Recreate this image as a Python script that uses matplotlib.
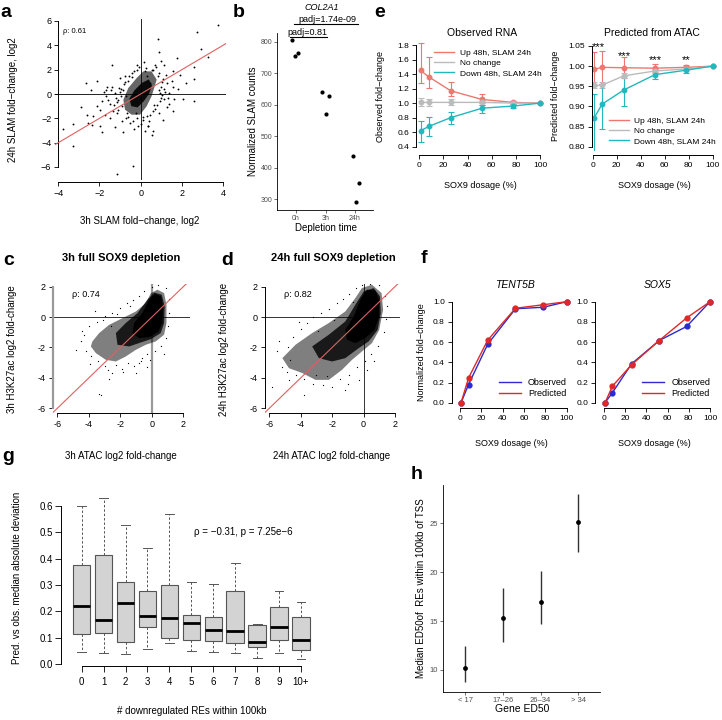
import numpy as np
import matplotlib.pyplot as plt

plt.rcParams['font.family'] = ['Liberation Sans', 'DejaVu Sans']

W, H = 722, 720

# ---------- a: 3h vs 24h SLAM
a_x = [3.77, 2.75, 0.86, 2.91, 3.28, 1.75, -1.41, 0.91, 0.97, 1.13, 2.6, 1.9, 2.59, 1.59,
       -2.65, -2.14, -2.43, -1.68, -1.62, -1.0, -0.76, -0.44, -0.19, 0.21, 2.07, 2.59, 1.59,
       1.52, -2.14, -2.62, -2.54, -2.38, -1.97, -1.89, -3.3, -3.75, -3.27, -1.49, -1.25, -0.84,
       -0.39, -1.13, 0.58, 0.53, 1.1, 1.59, 0.13, 0.37, -1.36, -1.73, -1.97, -1.13,
       -1.2, -1.0, -0.9, -1.1, -0.8, -0.6, 0.3, 0.6, 0.9, 1.1, 1.0, 1.2, 1.0, 0.8, 0.6, 0.3,
       -0.2, -0.6, -0.5, 0.0, -1.5, -1.7, -1.4, 1.4, 1.3, 0.7, -0.1, -0.4, 0.4, 0.9, 1.8, 2.2,
       -2.3, -2.9, -0.3, 0.2, -0.9, 1.3, 0.15, 0.45, -0.7, 0.65, 0.95, -0.95, 1.15, -0.25,
       -1.3, -1.1, -1.25, -1.05, -0.85, -0.95, -1.15, -0.7, -0.35, 0.1, 0.45, 0.7, 0.95, 1.05,
       1.15, 1.05, 0.85, 0.55, 0.25, -0.3, -0.55, -0.75, -1.45, -1.6, 1.4, 1.6, 0.35, -0.15,
       1.25, -1.9, -1.8, 0.75, -0.2, 1.35, 0.9, -0.65]
a_y = [5.7, 5.1, 4.55, 3.73, 3.04, 2.96, 2.41, 3.45, 2.68, 2.41, 2.19, 1.59, 1.26, 1.86,
       0.88, 1.04, 0.36, 0.30, 0.58, 1.32, 1.51, 1.73, 1.95, 1.86, -0.38, -0.6, 0.58,
       1.04, -1.01, -1.70, -2.38, -2.58, -2.66, -3.15, -2.44, -2.88, -4.30, -1.97, -2.71, -3.12,
       -5.89, -6.6, -3.07, -3.34, -2.16, -1.42, -2.11, -2.6, -1.42, -1.70, -1.29, -0.68,
       -0.3, 0.2, -1.0, -1.3, 0.8, 1.1, 1.5, 2.0, 1.7, 1.2, 0.6, 0.2, -0.3, -0.9, -1.4, -1.8,
       -2.0, -1.9, -2.4, -2.5, -0.8, -0.2, 0.6, -0.8, 0.9, 2.4, 2.2, 1.4, -2.2, -1.6, 0.4, 0.9,
       -1.8, -1.1, -2.9, -3.0, -2.2, -1.1, 2.6, 0.9, -0.2, -0.9, 0.1, 0.45, -0.45, -1.6,
       -0.9, -0.5, 0.1, 0.5, 0.35, -0.15, -1.6, -2.0, -2.2, -1.9, -1.7, -1.2, -0.6, -0.1,
       0.45, 0.95, 1.45, 1.95, 2.1, 1.9, 1.5, 1.0, 0.35, -0.5, 0.1, -0.4, -2.6, -2.6,
       1.6, -0.6, 0.2, 2.2, 2.4, -0.3, 0.3, -1.6]
a_blob_x = [0.53, 0.78, 0.53, 0.29, -0.03, -0.44, -0.76, -0.84, -0.6, -0.19, 0.13]
a_blob_y = [1.86, 1.18, -0.19, -1.01, -1.70, -1.70, -1.29, -0.47, 0.49, 1.32, 1.86]
a_core_x = [-0.45, -0.55, -0.3, 0.05, 0.4, 0.55, 0.4, 0.15, -0.15]
a_core_y = [-1.0, -0.4, 0.3, 0.9, 1.2, 0.7, 0.0, -0.6, -1.1]

# ---------- b: COL2A1
b_groups = ['0h', '3h', '24h']
b_pos = [0.85, 0.97, 1.08, 1.89, 2.02, 2.11, 2.94, 3.03, 3.15]
b_counts = [805, 757, 764, 640, 570, 627, 438, 290, 353]

# ---------- c / d: ATAC vs H3K27ac clouds
c_outer_x = [-3.77, -3.34, -2.71, -1.86, -1.01, -0.38, -0.06, 0.36, 0.78, 0.93, 0.93, 0.78, 0.25,
             -0.38, -1.01, -1.65, -2.28, -2.92, -3.55, -3.87]
c_outer_y = [-1.60, -1.05, -0.51, -0.07, 0.37, 0.92, 1.58, 1.80, 1.58, 0.81, -0.39, -1.16, -1.60,
             -1.82, -2.15, -2.59, -2.92, -2.81, -2.37, -1.93]
c_mid_x = [-2.28, -1.65, -0.91, -0.28, 0.15, 0.63, 0.82, 0.78, 0.57, -0.06, -0.81, -1.44, -2.18]
c_mid_y = [-1.05, -0.39, 0.26, 1.14, 1.62, 1.47, 0.70, -0.39, -1.05, -1.45, -1.71, -1.93, -1.82]
c_core_x = [-1.12, -0.60, -0.17, 0.21, 0.59, 0.72, 0.67, 0.42, -0.17, -0.81, -1.23]
c_core_y = [-0.39, 0.26, 1.14, 1.53, 1.36, 0.59, -0.39, -0.95, -1.32, -1.38, -1.05]
c_pts_x = [-4.82, -3.23, -3.83, -1.16, -0.81, -2.28, -2.81, -4.3, -4.0, -3.5, -3.0, -2.5, -2.0,
           -1.6, -1.2, -0.8, -0.5, 0.0, 0.4, 0.9, 1.1, 1.1, 1.05, 0.9, 0.6, 0.2, -0.3, -0.6,
           -1.5, -1.9, -2.5, -3.0, -3.4, -4.2, -4.5, -3.9, -1.0, -0.3, -2.7, -4.4, -3.6, -0.1,
           0.8, -3.34, -2.2, -1.4, -0.7, -3.1, -2.6, -1.8]
c_pts_y = [-2.15, -5.11, -2.59, -3.25, -3.03, -3.14, -3.47, -1.2, -0.6, -0.3, 0.1, 0.3, 0.6,
           0.9, 1.1, 1.4, 1.7, 2.0, 2.1, 1.9, 1.2, 0.3, -0.6, -1.4, -1.9, -2.2, -2.4, -2.7,
           -3.0, -3.4, -3.7, -3.2, -2.9, -2.2, -1.6, -3.1, -3.7, -3.3, -4.1, -0.9, 0.4, -2.8,
           -2.4, -5.07, 0.2, 0.7, -2.9, -0.2, -0.6, -3.6]

d_outer_x = [-5.17, -4.33, -3.27, -2.21, -1.16, -0.52, -0.10, 0.54, 1.15, 1.25, 1.0, 0.54, -0.10,
             -0.73, -1.37, -2.21, -3.06, -3.90, -4.75]
d_outer_y = [-2.70, -1.82, -1.05, -0.39, 0.37, 1.25, 1.91, 2.13, 1.58, 0.48, -0.84, -1.71, -2.26,
             -2.81, -3.47, -4.13, -4.13, -3.68, -3.36]
d_mid_x = [-3.27, -2.21, -1.16, -0.52, 0.01, 0.65, 1.05, 1.1, 0.9, 0.33, -0.30, -1.16, -2.0, -2.84]
d_mid_y = [-1.93, -1.16, -0.29, 0.81, 1.68, 1.91, 1.36, 0.26, -0.84, -1.60, -2.04, -2.70, -2.92, -2.70]
d_core_x = [-1.16, -0.62, -0.20, 0.22, 0.75, 1.0, 1.0, 0.7, 0.11, -0.52, -1.05]
d_core_y = [-0.84, 0.04, 1.14, 1.80, 1.75, 1.14, 0.04, -0.84, -1.38, -1.71, -1.49]
d_pts_x = [-5.5, -5.2, -4.8, -4.5, -4.0, -3.6, -3.2, -2.7, -2.2, -1.7, -1.3, -0.9, -0.5, -0.1,
           0.4, 1.0, 1.4, 1.5, 1.45, 1.3, 0.9, 0.5, 0.1, -0.4, -0.9, -1.5, -2.0, -2.6, -3.2,
           -3.8, -4.3, -4.9, -1.2, -3.8, -0.28, 0.2, -5.4, -4.7, -3.0, -2.3, -1.0, -4.73, -5.8,
           -4.1, -2.9, -1.9, -0.7, 0.7]
d_pts_y = [-2.2, -3.3, -2.0, -1.3, -0.8, -0.4, 0.0, 0.3, 0.5, 0.9, 1.2, 1.5, 1.9, 2.1,
           2.2, 2.1, 1.4, 0.7, -0.1, -1.0, -1.9, -2.4, -2.9, -3.3, -3.8, -4.1, -4.6, -4.5, -4.4,
           -4.1, -3.8, -3.6, -4.8, -5.1, -4.14, -3.5, -1.6, -2.8, -3.8, -3.9, -4.4, -4.13, -4.6,
           -0.3, -0.9, -0.2, 1.0, -2.9]

# ---------- e: dosage response
e_x = [1, 8, 26, 52, 78, 100]
obs_up = [1.45, 1.36, 1.17, 1.05, 1.01, 1.00]
obs_up_lo = [1.28, 1.21, 1.10, 1.00, 0.99, 1.00]
obs_up_hi = [1.83, 1.64, 1.29, 1.12, 1.03, 1.00]
obs_nc = [1.01, 1.01, 1.01, 1.01, 1.00, 1.00]
obs_nc_lo = [0.96, 0.96, 0.97, 0.98, 0.99, 1.00]
obs_nc_hi = [1.07, 1.06, 1.05, 1.03, 1.01, 1.00]
obs_dn = [0.62, 0.68, 0.80, 0.93, 0.96, 1.00]
obs_dn_lo = [0.47, 0.55, 0.71, 0.86, 0.93, 1.00]
obs_dn_hi = [0.75, 0.81, 0.88, 0.98, 0.99, 1.00]
pred_up = [0.992, 0.997, 0.996, 0.995, 0.997, 1.000]
pred_up_lo = [0.950, 0.955, 0.970, 0.985, 0.990, 1.000]
pred_up_hi = [1.035, 1.037, 1.022, 1.005, 1.004, 1.000]
pred_nc = [0.952, 0.953, 0.976, 0.988, 0.993, 1.000]
pred_nc_lo = [0.945, 0.946, 0.970, 0.984, 0.990, 1.000]
pred_nc_hi = [0.960, 0.960, 0.983, 0.992, 0.996, 1.000]
pred_dn = [0.871, 0.906, 0.941, 0.979, 0.990, 1.000]
pred_dn_lo = [0.780, 0.845, 0.900, 0.967, 0.983, 1.000]
pred_dn_hi = [0.930, 0.955, 0.975, 0.990, 0.997, 1.000]
star_txt = ['***', '***', '***', '**']
star_x = [5, 26, 52, 78]
star_y = [1.048, 1.026, 1.015, 1.015]
e_names = ['Up 48h, SLAM 24h', 'No change', 'Down 48h, SLAM 24h']

# ---------- f: example genes
f_x = [1, 8, 26, 52, 78, 100]
tent_obs = [0.0, 0.18, 0.58, 0.93, 0.945, 1.0]
tent_pred = [0.0, 0.245, 0.62, 0.935, 0.97, 1.0]
sox5_obs = [0.0, 0.10, 0.385, 0.615, 0.755, 1.0]
sox5_pred = [0.0, 0.165, 0.375, 0.615, 0.84, 1.0]

# ---------- g: boxplots
g_labels = ['0', '1', '2', '3', '4', '5', '6', '7', '8', '9', '10+']
g_lo = [0.045, 0.040, 0.037, 0.058, 0.080, 0.048, 0.047, 0.040, 0.022, 0.040, 0.018]
g_q1 = [0.115, 0.117, 0.085, 0.140, 0.100, 0.093, 0.088, 0.078, 0.063, 0.093, 0.053]
g_med = [0.222, 0.168, 0.233, 0.183, 0.176, 0.156, 0.128, 0.127, 0.085, 0.142, 0.092]
g_q3 = [0.375, 0.415, 0.310, 0.277, 0.300, 0.185, 0.177, 0.277, 0.150, 0.215, 0.180]
g_hi = [0.600, 0.632, 0.528, 0.440, 0.568, 0.313, 0.302, 0.382, 0.153, 0.278, 0.237]

# ---------- h: ED50
h_labels = ['< 17', '17\u201326', '26\u201334', '> 34']
h_med = [10.17, 15.27, 17.0, 25.14]
h_lo = [8.74, 12.86, 14.73, 22.1]
h_hi = [12.48, 18.34, 20.1, 27.96]

fig = plt.figure(figsize=(W / 100, H / 100), dpi=100)


def panel(l, t, r, b, xa, xb, ya, yb):
    # axes placed in pixels; limits fitted so that given values land on given pixels
    ax = fig.add_axes([l / W, 1 - b / H, (r - l) / W, (b - t) / H])
    sx = (xb[1] - xa[1]) / (xb[0] - xa[0])
    ax.set_xlim(xa[0] + (l - xa[1]) / sx, xa[0] + (r - xa[1]) / sx)
    sy = (yb[1] - ya[1]) / (yb[0] - ya[0])
    ax.set_ylim(ya[0] + (b - ya[1]) / sy, ya[0] + (t - ya[1]) / sy)
    ax.patch.set_alpha(0)
    return ax


def r_style(ax, size=6.5, tick=3):
    for s in ['top', 'right']:
        ax.spines[s].set_visible(False)
    for s in ['left', 'bottom']:
        ax.spines[s].set_linewidth(0.7)
    ax.tick_params(direction='out', length=tick, width=0.6, labelsize=size, pad=2)


def gg_style(ax, size=5):
    for s in ['top', 'right']:
        ax.spines[s].set_visible(False)
    for s in ['left', 'bottom']:
        ax.spines[s].set_linewidth(0.6)
    ax.tick_params(direction='out', length=2, width=0.5, color='#333333',
                   labelcolor='#4d4d4d', labelsize=size, pad=1.5)


def ftext(x, y, s, **kw):
    fig.text(x / W, 1 - y / H, s, **kw)


# panel letters
for lab, x, y in [('a', 0, 17), ('b', 233, 17), ('c', 3, 265), ('d', 221, 265),
                  ('e', 374, 17), ('f', 421, 263), ('g', 2, 461), ('h', 411, 479)]:
    ftext(x, y, lab, fontsize=14, fontweight='bold', ha='left', va='baseline')

# ===== a
ax = panel(55, 19, 226, 180, (-4, 58.3), (4, 223), (6, 21), (-6, 167))
r_style(ax)
ax.axhline(0, color='#222222', lw=0.7, zorder=1)
ax.axvline(0, color='#222222', lw=0.7, zorder=1)
ax.fill(a_blob_x, a_blob_y, color='k', alpha=0.6, lw=0, zorder=2)
ax.fill(a_core_x, a_core_y, color='k', alpha=0.9, lw=0, zorder=2)
ax.scatter(a_x, a_y, s=1.8, color='k', lw=0, zorder=3)
ax.plot([-5, 5], [-5, 5], color='#E06060', lw=0.8, zorder=4)
ax.spines['left'].set_position(('data', -4))
ax.spines['bottom'].set_position(('outward', 1.5))
ax.spines['left'].set_bounds(-6, 6)
ax.spines['bottom'].set_bounds(-4, 4)
ax.set_xticks([-4, -2, 0, 2, 4])
ax.set_yticks([-6, -4, -2, 0, 2, 4, 6])
ax.text(-3.76, 5.12, '\u03c1: 0.61', fontsize=5.5, va='center', ha='left')
ftext(140, 221, '3h SLAM fold\u2212change, log2', fontsize=7, ha='center', va='center')
ftext(13, 100, '24h SLAM fold\u2212change, log2', fontsize=7, ha='center', va='center', rotation=90)

# ===== b
ax = panel(277, 33, 373, 210, (1, 296), (3, 355), (800, 42), (300, 199.3))
gg_style(ax)
ax.scatter(b_pos, b_counts, s=9, color='k', lw=0, zorder=3)
ax.set_xticks([1, 2, 3])
ax.set_xticklabels(b_groups)
ax.set_yticks([300, 400, 500, 600, 700, 800])
ax.plot([0.93, 3.1], [857, 857], color='k', lw=0.8, clip_on=False)
ax.plot([0.80, 2.04], [815, 815], color='k', lw=0.8, clip_on=False)
ax.text(2.07, 857, 'padj=1.74e-09', fontsize=6.5, ha='center', va='bottom', clip_on=False)
ax.text(1.4, 815, 'padj=0.81', fontsize=6.5, ha='center', va='bottom', clip_on=False)
ftext(322, 7, 'COL2A1', fontsize=6.5, style='italic', ha='center', va='center')
ftext(326, 228, 'Depletion time', fontsize=7, ha='center', va='center')
ftext(253, 121.5, 'Normalized SLAM counts', fontsize=7, ha='center', va='center', rotation=90)

# ===== c and d
for key, (l, r, xa_val, xb_val) in {'c': (52.7, 190, (-6, 57.3), (2, 183.3)),
                                    'd': (265, 400, (-6, 269.3), (0, 363.5))}.items():
    ax = panel(l, 284.3, r, 413.5, xa_val, xb_val, (2, 286.7), (-6, 408.3))
    r_style(ax)
    if key == 'c':
        ox, oy, mx, my, cx, cy, px, py = (c_outer_x, c_outer_y, c_mid_x, c_mid_y,
                                          c_core_x, c_core_y, c_pts_x, c_pts_y)
        ax.axvline(0, color='#9a9a9a', lw=1.6, zorder=1)
        ax.spines['left'].set_color('#9a9a9a')
        ax.spines['left'].set_linewidth(1.6)
        rho = '\u03c1: 0.74'
    else:
        ox, oy, mx, my, cx, cy, px, py = (d_outer_x, d_outer_y, d_mid_x, d_mid_y,
                                          d_core_x, d_core_y, d_pts_x, d_pts_y)
        ax.axvline(0, color='#333333', lw=0.7, zorder=1)
        rho = '\u03c1: 0.82'
    ax.axhline(0, color='#333333', lw=0.7, zorder=1)
    ax.fill(ox, oy, color='k', alpha=0.5, lw=0, zorder=2)
    ax.fill(mx, my, color='k', alpha=0.8, lw=0, zorder=2)
    ax.fill(cx, cy, color='k', alpha=1.0, lw=0, zorder=2)
    ax.scatter(px, py, s=0.8, color='k', lw=0, zorder=3)
    ax.plot([-7, 3], [-7, 3], color='#E06060', lw=0.8, zorder=4)
    ax.spines['left'].set_bounds(-6, 2)
    ax.spines['bottom'].set_bounds(-6, 2)
    ticks = [-6, -4, -2, 0, 2]
    ax.set_xticks(ticks)
    ax.set_yticks(ticks)
    ax.set_xticklabels([str(t) for t in ticks])
    ax.set_yticklabels([str(t) for t in ticks])
    ax.text(-5.05, 1.5, rho, fontsize=6.5, ha='left', va='center')

ftext(121, 258, '3h full SOX9 depletion', fontsize=8, fontweight='bold', ha='center', va='center')
ftext(333, 258, '24h full SOX9 depletion', fontsize=8, fontweight='bold', ha='center', va='center')
ftext(121, 455.7, '3h ATAC log2 fold-change', fontsize=7, ha='center', va='center')
ftext(332, 455.7, '24h ATAC log2 fold-change', fontsize=7, ha='center', va='center')
ftext(11.7, 349, '3h H3K27ac log2 fold-change', fontsize=7, ha='center', va='center', rotation=90)
ftext(224, 349, '24h H3K27ac log2 fold-change', fontsize=7, ha='center', va='center', rotation=90)

# ===== e
e_cols = ['#EE7770', '#BBBBBB', '#22B8BC']
obs_sets = [(obs_up, obs_up_lo, obs_up_hi), (obs_nc, obs_nc_lo, obs_nc_hi), (obs_dn, obs_dn_lo, obs_dn_hi)]
pred_sets = [(pred_up, pred_up_lo, pred_up_hi), (pred_nc, pred_nc_lo, pred_nc_hi),
             (pred_dn, pred_dn_lo, pred_dn_hi)]

ax1 = panel(416, 41, 545, 151, (0, 419.3), (100, 540), (1.8, 45), (0.4, 146.7))
ax2 = panel(591.7, 41, 717, 151, (0, 592.7), (100, 712.7), (1.05, 46), (0.80, 146.7))
for ax, sets in [(ax1, obs_sets), (ax2, pred_sets)]:
    r_style(ax, size=6)
    for (m, lo, hi), col, name in zip(sets, e_cols, e_names):
        m = np.array(m)
        yerr = [m - np.array(lo), np.array(hi) - m]
        ax.errorbar(e_x, m, yerr=yerr, color=col, lw=1, elinewidth=0.8, capsize=2,
                    capthick=0.8, marker='o', ms=3.2, label=name)
    ax.spines['bottom'].set_position(('outward', 3))
    ax.spines['bottom'].set_bounds(0, 100)
    ax.set_xticks([0, 20, 40, 60, 80, 100])
ax1.set_yticks([0.4, 0.6, 0.8, 1.0, 1.2, 1.4, 1.6, 1.8])
ax1.set_yticklabels(['%.1f' % v for v in [0.4, 0.6, 0.8, 1.0, 1.2, 1.4, 1.6, 1.8]])
ax1.spines['left'].set_bounds(0.4, 1.8)
ax2.set_yticks([0.80, 0.85, 0.90, 0.95, 1.00, 1.05])
ax2.set_yticklabels(['%.2f' % v for v in [0.80, 0.85, 0.90, 0.95, 1.00, 1.05]])
ax2.spines['left'].set_bounds(0.80, 1.05)
for t, x, y in zip(star_txt, star_x, star_y):
    ax2.text(x, y, t, fontsize=8, ha='center', va='center', clip_on=False)
for ax, loc, anchor in [(ax1, 'upper right', (1.02, 0.98)), (ax2, 'lower right', (1.04, 0.0))]:
    handles = [plt.Line2D([], [], color=c, lw=1) for c in e_cols]
    ax.legend(handles, e_names, loc=loc, bbox_to_anchor=anchor, frameon=False, fontsize=6,
              handlelength=2.4, handletextpad=0.7, labelspacing=0.25, borderpad=0.2)
ftext(481.7, 33, 'Observed RNA', fontsize=7.5, ha='center', va='center')
ftext(652, 33, 'Predicted from ATAC', fontsize=7.5, ha='center', va='center')
ftext(480, 186, 'SOX9 dosage (%)', fontsize=6.5, ha='center', va='center')
ftext(654, 186, 'SOX9 dosage (%)', fontsize=6.5, ha='center', va='center')
ftext(381, 96, 'Observed fold\u2212change', fontsize=6.5, ha='center', va='center', rotation=90)
ftext(555, 96, 'Predicted fold\u2212change', fontsize=6.5, ha='center', va='center', rotation=90)

# ===== f
fa = panel(451.7, 297.7, 571, 406.7, (0, 460), (100, 566.7), (1, 301.7), (0, 402.7))
fb = panel(595, 297.7, 714.2, 406.7, (0, 604), (100, 710), (1, 301.7), (0, 402.7))
for ax, obs, pred, title, cx in [(fa, tent_obs, tent_pred, 'TENT5B', 515),
                                 (fb, sox5_obs, sox5_pred, 'SOX5', 658)]:
    r_style(ax, size=6)
    ax.plot(f_x, obs, color='#2B2BD0', lw=1, marker='o', ms=3.5, label='Observed')
    ax.plot(f_x, pred, color='#E02828', lw=1, marker='o', ms=3.5, label='Predicted')
    ax.spines['bottom'].set_position(('outward', 1))
    ax.spines['bottom'].set_bounds(0, 100)
    ax.spines['left'].set_bounds(0, 1)
    ax.set_xticks([0, 20, 40, 60, 80, 100])
    ax.set_yticks([0, 0.2, 0.4, 0.6, 0.8, 1.0])
    ax.set_yticklabels(['0.0', '0.2', '0.4', '0.6', '0.8', '1.0'])
    handles = [plt.Line2D([], [], color=c, lw=1) for c in ['#2B2BD0', '#E02828']]
    ax.legend(handles, ['Observed', 'Predicted'], loc='lower right', bbox_to_anchor=(1.02, 0.02),
              frameon=False, fontsize=6.5, handlelength=2.4, handletextpad=0.8,
              labelspacing=0.2, borderpad=0.2)
    ftext(cx, 285, title, fontsize=7.5, style='italic', ha='center', va='center')
ftext(511, 443, 'SOX9 dosage (%)', fontsize=6.5, ha='center', va='center')
ftext(654, 443, 'SOX9 dosage (%)', fontsize=6.5, ha='center', va='center')
ftext(421.7, 352, 'Normalized fold\u2212change', fontsize=6.5, ha='center', va='center', rotation=90)

# ===== g
ax = panel(61.1, 491, 321.6, 665.7, (1, 81.7), (11, 301), (0.6, 506), (0.0, 664))
r_style(ax, size=7, tick=4)
stats = [dict(whislo=a, q1=b, med=c, q3=d, whishi=e)
         for a, b, c, d, e in zip(g_lo, g_q1, g_med, g_q3, g_hi)]
ax.bxp(stats, positions=range(1, 12), widths=0.8, capwidths=0.4, patch_artist=True,
       showfliers=False, manage_ticks=False,
       boxprops=dict(facecolor='#d3d3d3', edgecolor='#555555', lw=0.8),
       medianprops=dict(color='k', lw=2, solid_capstyle='butt'),
       whiskerprops=dict(color='#555555', lw=0.7, ls=(0, (2.5, 2))),
       capprops=dict(color='#555555', lw=0.7))
ax.set_xticks(range(1, 12))
ax.set_xticklabels(g_labels)
ax.set_yticks([0.0, 0.1, 0.2, 0.3, 0.4, 0.5, 0.6])
ax.set_yticklabels(['0.0', '0.1', '0.2', '0.3', '0.4', '0.5', '0.6'])
ax.spines['left'].set_bounds(0, 0.6)
ax.spines['bottom'].set_bounds(1, 11)
ax.tick_params(axis='x', pad=4)
ax.text(8.37, 0.5, '\u03c1 = \u22120.31, p = 7.25e\u22126', fontsize=7, ha='center', va='center')
ftext(191.7, 710.7, '# downregulated REs within 100kb', fontsize=7, ha='center', va='center')
ftext(16.7, 578, 'Pred. vs obs. median absolute deviation', fontsize=7, ha='center', va='center',
      rotation=90)

# ===== h
ax = panel(442.7, 485, 600, 691.7, (1, 465), (4, 578.3), (10, 670), (25, 523.3))
gg_style(ax, size=5.5)
pos = np.arange(1, 5)
ax.vlines(pos, h_lo, h_hi, color='#333333', lw=1.0)
ax.scatter(pos, h_med, s=12, color='k', lw=0, zorder=3)
ax.set_xticks(pos)
ax.set_xticklabels(h_labels)
ax.set_yticks([10, 15, 20, 25])
ftext(521.7, 709.3, 'Gene ED50', fontsize=7.5, ha='center', va='center')
ftext(420.7, 588, 'Median ED50of  REs within 100kb of TSS', fontsize=7, ha='center', va='center',
      rotation=90)

fig.savefig('out.png', dpi=100)
